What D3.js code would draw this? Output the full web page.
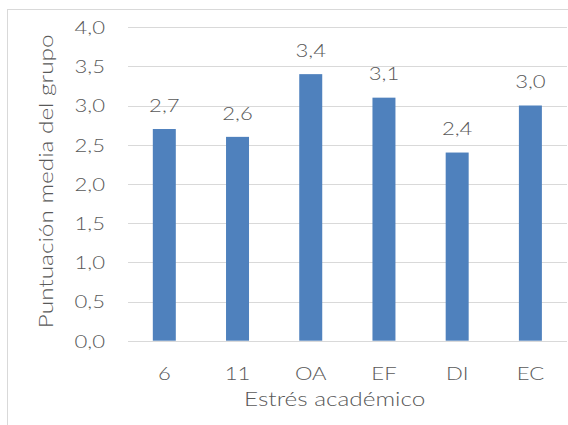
<!DOCTYPE html>
<html>
<head>
<meta charset="utf-8">
<script src="https://cdn.jsdelivr.net/npm/d3@7"></script>
<style>
  html, body { margin: 0; padding: 0; background: #fff; }
  svg { display: block; }
  text { font-family: Lato, "Open Sans", sans-serif; font-weight: 300; fill: #595959; }
</style>
</head>
<body>
<svg id="chart" width="568" height="425"></svg>
<script>
// Group means for each academic stress factor
const categories = ["6", "11", "OA", "EF", "DI", "EC"];
const values = [2.7, 2.6, 3.4, 3.1, 2.4, 3.0];
const yTicks = [0, 0.5, 1, 1.5, 2, 2.5, 3, 3.5, 4];
const xTitle = "Estrés académico";
const yTitle = "Puntuación media del grupo";

const W = 568, H = 425;
const plot = { left: 127.7, right: 567, top: 27.1, bottom: 340.7 };
const sx = 1.25;              // horizontal text stretch
const tickFont = 17.7, titleFont = 19.5;
const grid = "#d9d9d9", barColor = "#4f81bd";

const es = d3.formatLocale({ decimal: ",", thousands: ".", grouping: [3], currency: ["", " €"] });
const fmt = es.format(".1f");

const svg = d3.select("#chart");

// Outer chart frame
svg.append("rect")
  .attr("x", 7.5).attr("y", 9.5)
  .attr("width", W + 20).attr("height", H + 20)
  .attr("fill", "none").attr("stroke", grid).attr("stroke-width", 1);

const x = d3.scaleBand()
  .domain(categories)
  .range([plot.left, plot.right])
  .paddingInner(0.686)
  .paddingOuter(0.343);

const y = d3.scaleLinear()
  .domain([0, 4])
  .range([plot.bottom, plot.top]);

// Horizontal gridlines with value labels
const yAxis = svg.append("g")
  .attr("transform", `translate(${plot.left},0)`)
  .call(d3.axisLeft(y).tickValues(yTicks).tickFormat(fmt)
    .tickSize(-(plot.right - plot.left)).tickPadding(0));
yAxis.select(".domain").remove();
yAxis.attr("font-family", null).attr("font-size", null);
yAxis.selectAll(".tick line")
  .attr("stroke", grid).attr("stroke-width", 1)
  .attr("shape-rendering", "crispEdges");
yAxis.selectAll(".tick text")
  .attr("x", 0).attr("dy", null)
  .attr("text-anchor", "end")
  .attr("transform", `translate(-22.7,6.4) scale(${sx},1)`)
  .style("font-size", tickFont + "px")
  .attr("fill", "#595959");

// Bars
svg.append("g").selectAll("rect")
  .data(values)
  .join("rect")
  .attr("x", (d, i) => x(categories[i]))
  .attr("y", d => y(d))
  .attr("width", x.bandwidth())
  .attr("height", d => y(0) - y(d))
  .attr("fill", barColor);

// Value labels above the bars
svg.append("g").selectAll("text")
  .data(values)
  .join("text")
  .attr("text-anchor", "middle")
  .attr("transform", (d, i) =>
    `translate(${x(categories[i]) + x.bandwidth() / 2},${y(d) - 17.3}) scale(${sx},1)`)
  .style("font-size", tickFont + "px")
  .text(d => fmt(d));

// Category axis
const xAxis = svg.append("g")
  .attr("transform", `translate(0,${plot.bottom})`)
  .call(d3.axisBottom(x).tickSize(0).tickPadding(0));
xAxis.select(".domain").remove();
xAxis.attr("font-family", null).attr("font-size", null);
xAxis.selectAll(".tick text")
  .attr("y", 0).attr("dy", null)
  .attr("text-anchor", "middle")
  .attr("transform", `translate(0,39.3) scale(${sx},1)`)
  .style("font-size", tickFont + "px")
  .attr("fill", "#595959");

// Axis titles
svg.append("text")
  .attr("text-anchor", "middle")
  .attr("transform", `translate(334.7,405.7) scale(${sx},1)`)
  .style("font-size", titleFont + "px")
  .text(xTitle);

svg.append("text")
  .attr("text-anchor", "middle")
  .attr("transform", `translate(53,181.3) rotate(-90) scale(${sx},1)`)
  .style("font-size", titleFont + "px")
  .text(yTitle);
</script>
</body>
</html>
